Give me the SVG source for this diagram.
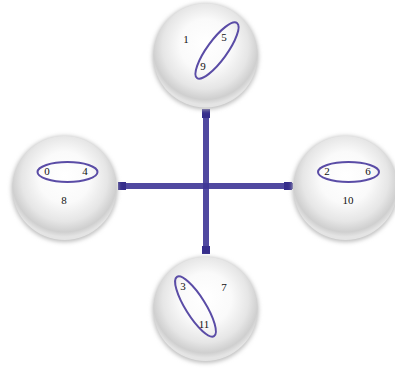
<svg xmlns="http://www.w3.org/2000/svg" width="395" height="371" viewBox="0 0 395 371">
<defs>
<radialGradient id="ball" cx="50%" cy="42%" r="55%" fx="50%" fy="38%">
<stop offset="0%" stop-color="#ffffff"/>
<stop offset="45%" stop-color="#fafafa"/>
<stop offset="75%" stop-color="#e6e6e6"/>
<stop offset="92%" stop-color="#cfcfcf"/>
<stop offset="100%" stop-color="#e4e4e4"/>
</radialGradient>
<filter id="sh" x="-20%" y="-20%" width="140%" height="140%">
<feGaussianBlur stdDeviation="2"/>
</filter>
<style>
.ball{fill:url(#ball);}
.shadow{fill:#bdbdbd;filter:url(#sh);}
.ring{fill:none;stroke:#5a4ca6;stroke-width:2;}
.lbl{font-family:"Liberation Serif",serif;font-size:11px;fill:#111;text-anchor:middle;}
.bar{stroke:#3d3596;stroke-width:6;stroke-opacity:0.9;}
.cap{fill:#362e8c;}
</style>
</defs>
<g id="connectors">
<line class="bar" x1="206" y1="110" x2="206" y2="254"/>
<line class="bar" x1="118" y1="186" x2="293" y2="186"/>
<rect class="cap" x="202" y="109" width="8" height="9"/>
<rect class="cap" x="202" y="246" width="8" height="8"/>
<rect class="cap" x="118" y="182" width="8" height="8"/>
<rect class="cap" x="284" y="182" width="8" height="8"/>
</g>
<g id="node-top">
<circle class="shadow" cx="205.5" cy="56.5" r="53"/>
<circle class="ball" cx="205.5" cy="55.5" r="52"/>
<ellipse class="ring" cx="217" cy="50.5" rx="34" ry="10" transform="rotate(-54 217 50.5)"/>
<text class="lbl" x="186" y="43">1</text>
<text class="lbl" x="224" y="41">5</text>
<text class="lbl" x="203" y="70">9</text>
</g>
<g id="node-left">
<circle class="shadow" cx="64.5" cy="189" r="53"/>
<circle class="ball" cx="64.5" cy="188" r="52"/>
<ellipse class="ring" cx="67.5" cy="172" rx="30" ry="10"/>
<text class="lbl" x="47" y="175">0</text>
<text class="lbl" x="85" y="175">4</text>
<text class="lbl" x="64" y="204">8</text>
</g>
<g id="node-right">
<circle class="shadow" cx="345.5" cy="189" r="53"/>
<circle class="ball" cx="345.5" cy="188" r="52"/>
<ellipse class="ring" cx="348.5" cy="172" rx="30.5" ry="10"/>
<text class="lbl" x="327" y="175">2</text>
<text class="lbl" x="368" y="175">6</text>
<text class="lbl" x="348" y="204">10</text>
</g>
<g id="node-bottom">
<circle class="shadow" cx="205.5" cy="310" r="53"/>
<circle class="ball" cx="205.5" cy="309" r="52"/>
<ellipse class="ring" cx="195.5" cy="306.5" rx="35" ry="10" transform="rotate(58 195.5 306.5)"/>
<text class="lbl" x="183" y="290">3</text>
<text class="lbl" x="224" y="291">7</text>
<text class="lbl" x="204" y="328">11</text>
</g>
</svg>
